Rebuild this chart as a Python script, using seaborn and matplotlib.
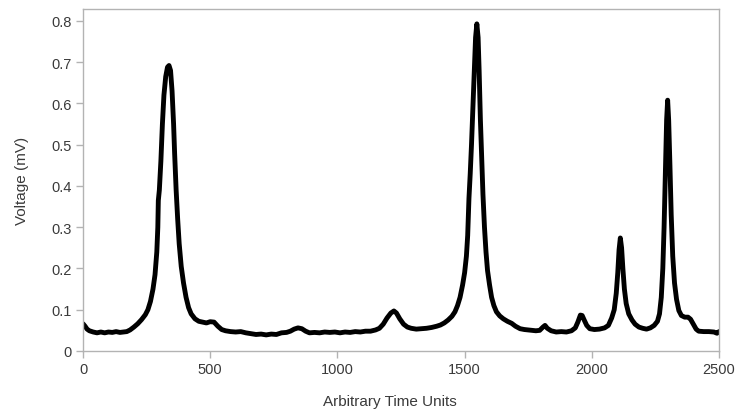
import matplotlib
matplotlib.use("Agg")
import matplotlib.pyplot as plt
import pandas as pd
import seaborn as sns

# Signal (time units, voltage in mV)
time_units = [
    0, 8, 16, 25, 40, 55, 70, 85, 100, 115, 130, 145, 160, 172, 185, 200, 215, 230,
    245, 255, 265, 275, 283, 290, 294, 296, 300, 306, 312, 318, 325, 332, 338, 344,
    350, 356, 360, 366, 372, 378, 386, 395, 405, 415, 425, 440, 455, 470, 485, 500,
    515, 530, 545, 560, 580, 600, 620, 640, 660, 680, 700, 720, 740, 760, 780, 800,
    815, 830, 845, 860, 875, 890, 910, 930, 950, 970, 990, 1010, 1030, 1050, 1070,
    1090, 1110, 1130, 1150, 1165, 1180, 1195, 1210, 1222, 1232, 1245, 1260, 1275,
    1290, 1310, 1330, 1350, 1370, 1390, 1405, 1420, 1435, 1450, 1462, 1472, 1482,
    1492, 1500, 1507, 1512, 1517, 1522, 1527, 1532, 1538, 1543, 1548, 1553, 1557,
    1562, 1567, 1572, 1578, 1584, 1590, 1598, 1606, 1615, 1625, 1638, 1652, 1668,
    1685, 1700, 1718, 1735, 1750, 1765, 1780, 1795, 1808, 1816, 1825, 1840, 1860,
    1880, 1900, 1920, 1935, 1945, 1955, 1962, 1970, 1980, 1992, 2010, 2030, 2050,
    2065, 2078, 2088, 2096, 2102, 2107, 2112, 2117, 2122, 2128, 2135, 2145, 2158,
    2170, 2185, 2200, 2215, 2230, 2245, 2258, 2266, 2273, 2279, 2284, 2289, 2294,
    2298, 2302, 2307, 2312, 2318, 2325, 2333, 2342, 2352, 2365, 2378, 2388, 2398,
    2410, 2420, 2440, 2460, 2480, 2492, 2500,
]
voltage = [
    0.066, 0.060, 0.053, 0.049, 0.046, 0.044, 0.046, 0.044, 0.046, 0.045, 0.047,
    0.045, 0.046, 0.047, 0.051, 0.058, 0.066, 0.076, 0.088, 0.100, 0.120, 0.150,
    0.185, 0.240, 0.300, 0.365, 0.390, 0.460, 0.550, 0.620, 0.665, 0.688, 0.692,
    0.680, 0.630, 0.550, 0.480, 0.390, 0.320, 0.260, 0.205, 0.165, 0.130, 0.105,
    0.090, 0.078, 0.072, 0.070, 0.068, 0.071, 0.070, 0.060, 0.052, 0.049, 0.047,
    0.046, 0.047, 0.044, 0.042, 0.040, 0.041, 0.039, 0.041, 0.040, 0.044, 0.045,
    0.048, 0.053, 0.056, 0.054, 0.048, 0.044, 0.045, 0.044, 0.046, 0.045, 0.046,
    0.044, 0.046, 0.045, 0.047, 0.046, 0.048, 0.048, 0.051, 0.055, 0.065, 0.080,
    0.092, 0.097, 0.092, 0.078, 0.065, 0.058, 0.055, 0.053, 0.054, 0.055, 0.057,
    0.060, 0.063, 0.068, 0.075, 0.084, 0.095, 0.110, 0.130, 0.160, 0.190, 0.230,
    0.280, 0.370, 0.430, 0.500, 0.580, 0.680, 0.760, 0.793, 0.760, 0.680, 0.560,
    0.470, 0.380, 0.300, 0.240, 0.195, 0.160, 0.130, 0.110, 0.095, 0.085, 0.078,
    0.072, 0.067, 0.060, 0.054, 0.052, 0.051, 0.050, 0.049, 0.050, 0.058, 0.062,
    0.055, 0.049, 0.046, 0.047, 0.046, 0.049, 0.056, 0.070, 0.087, 0.086, 0.075,
    0.062, 0.054, 0.052, 0.053, 0.056, 0.062, 0.080, 0.100, 0.140, 0.190, 0.245,
    0.274, 0.250, 0.200, 0.150, 0.115, 0.090, 0.075, 0.065, 0.058, 0.055, 0.053,
    0.056, 0.062, 0.072, 0.090, 0.130, 0.200, 0.300, 0.430, 0.560, 0.608, 0.560,
    0.450, 0.330, 0.230, 0.165, 0.125, 0.098, 0.086, 0.082, 0.082, 0.077, 0.066,
    0.053, 0.048, 0.047, 0.047, 0.046, 0.043, 0.047,
]

x_ticks = [0, 500, 1000, 1500, 2000, 2500]
y_ticks = [0, 0.1, 0.2, 0.3, 0.4, 0.5, 0.6, 0.7, 0.8]

df = pd.DataFrame({"time": time_units, "voltage": voltage})

sns.set_style("white")
plt.rcParams["font.family"] = ["Liberation Sans", "DejaVu Sans"]

text_color = "#3a3a3a"
frame_color = "#b3b3b3"

fig = plt.figure(figsize=(7.38, 4.10), dpi=100)
ax = fig.add_axes([0.1125, 0.1415, 0.8618, 0.8341])

sns.lineplot(data=df, x="time", y="voltage", ax=ax, color="black",
             linewidth=3.5, solid_joinstyle="round", solid_capstyle="round")

ax.set_xlim(0, 2500)
ax.set_ylim(0, 0.829)
ax.set_xticks(x_ticks)
ax.set_xticklabels([str(t) for t in x_ticks])
ax.set_yticks(y_ticks)
ax.set_yticklabels(["0"] + [f"{t:.1f}" for t in y_ticks[1:]])

for side in ["left", "right", "top", "bottom"]:
    ax.spines[side].set_visible(True)
    ax.spines[side].set_color(frame_color)
    ax.spines[side].set_linewidth(1.0)

ax.tick_params(axis="both", which="major", direction="out", length=5,
               width=1.0, color=frame_color, labelcolor=text_color,
               labelsize=10.5, pad=3, left=True, bottom=True)

ax.set_xlabel("Arbitrary Time Units", fontsize=11, color=text_color)
ax.xaxis.set_label_coords(0.482, -0.125)
ax.set_ylabel("Voltage (mV)", fontsize=11, color=text_color, labelpad=16)

fig.savefig("out.png", dpi=100)
